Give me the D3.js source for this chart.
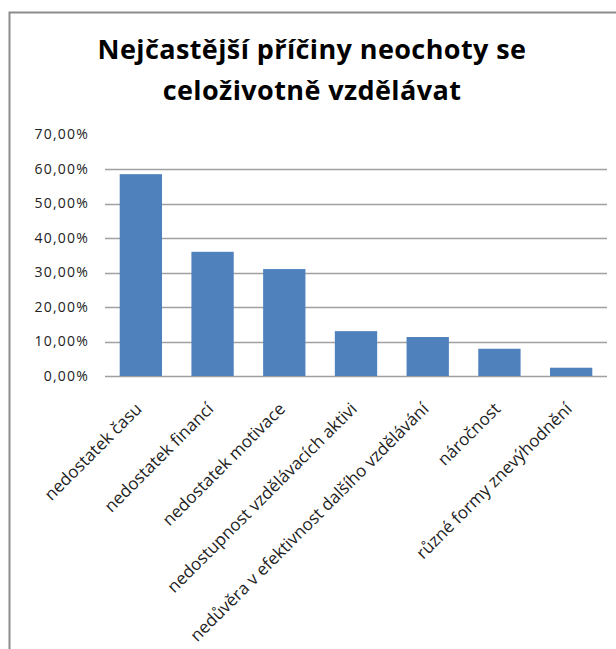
<!DOCTYPE html>
<html><head><meta charset="utf-8">
<script src="https://cdn.jsdelivr.net/npm/d3@7"></script>
<style>body{margin:0;background:#fff}svg{display:block}</style>
</head><body>
<svg id="c" width="616" height="649"></svg>
<script>
const categories = ["nedostatek času","nedostatek financí","nedostatek motivace","nedostupnost vzdělávacích aktivi","nedůvěra v efektivnost dalšího vzdělávání","náročnost","různé formy znevýhodnění"];
const values = [0.585, 0.360, 0.310, 0.130, 0.113, 0.079, 0.024];
const yTicks = [0,0.1,0.2,0.3,0.4,0.5,0.6,0.7];
const titleLines = ["Nejčastější příčiny neochoty se","celoživotně vzdělávat"];

const svg = d3.select("#c");
// frame
svg.append("path").attr("d","M9.5,649 V12.5 H616").attr("fill","none").attr("stroke","#8c8c8c").attr("stroke-width",2);

const m = {left:105, right:607, top:134.5, bottom:376};
const x = d3.scaleBand().domain(categories).range([m.left,m.right]).paddingInner(0.41).paddingOuter(0.205);
const y = d3.scaleLinear().domain([0,0.7]).range([m.bottom,m.top]);
const fmt = d => d3.format(".2f")(d*100).replace(".",",")+"%";

// title
svg.append("g").selectAll("text").data(titleLines).join("text")
  .attr("x",312).attr("y",(d,i)=>59+i*41).attr("text-anchor","middle")
  .attr("font-family","Open Sans, sans-serif").attr("font-weight","700").attr("font-size",27)
  .attr("letter-spacing",0.4)
  .attr("fill","#000").text(d=>d);

// gridlines
svg.append("g").selectAll("line").data(yTicks.filter(t=>t<0.7)).join("line")
  .attr("x1",m.left).attr("x2",m.right).attr("y1",d=>Math.round(y(d))+0.5).attr("y2",d=>Math.round(y(d))+0.5)
  .attr("stroke","#a0a0a0").attr("stroke-width",1.5);

// y axis
const ya = svg.append("g").attr("transform",`translate(${m.left},0)`)
  .call(d3.axisLeft(y).tickValues(yTicks).tickFormat(fmt).tickSize(0).tickPadding(16));
ya.select(".domain").remove();
ya.selectAll("text").attr("font-family","Open Sans, sans-serif").attr("font-size",14)
  .attr("letter-spacing",1.2).attr("fill","#222");

// bars
svg.append("g").selectAll("rect").data(values).join("rect")
  .attr("x",(d,i)=>x(categories[i])).attr("width",x.bandwidth())
  .attr("y",d=>y(d)).attr("height",d=>y(0)-y(d)).attr("fill","#4f81bd");

// x axis
const xa = svg.append("g").attr("transform",`translate(0,${m.bottom})`)
  .call(d3.axisBottom(x).tickSize(0).tickPadding(0));
xa.select(".domain").remove();
xa.selectAll("text").attr("font-family","Open Sans, sans-serif").attr("font-size",17).attr("fill","#222")
  .attr("text-anchor","end").attr("dy",null).attr("y",0).attr("transform","translate(2,34) rotate(-45)");
</script>
</body></html>
